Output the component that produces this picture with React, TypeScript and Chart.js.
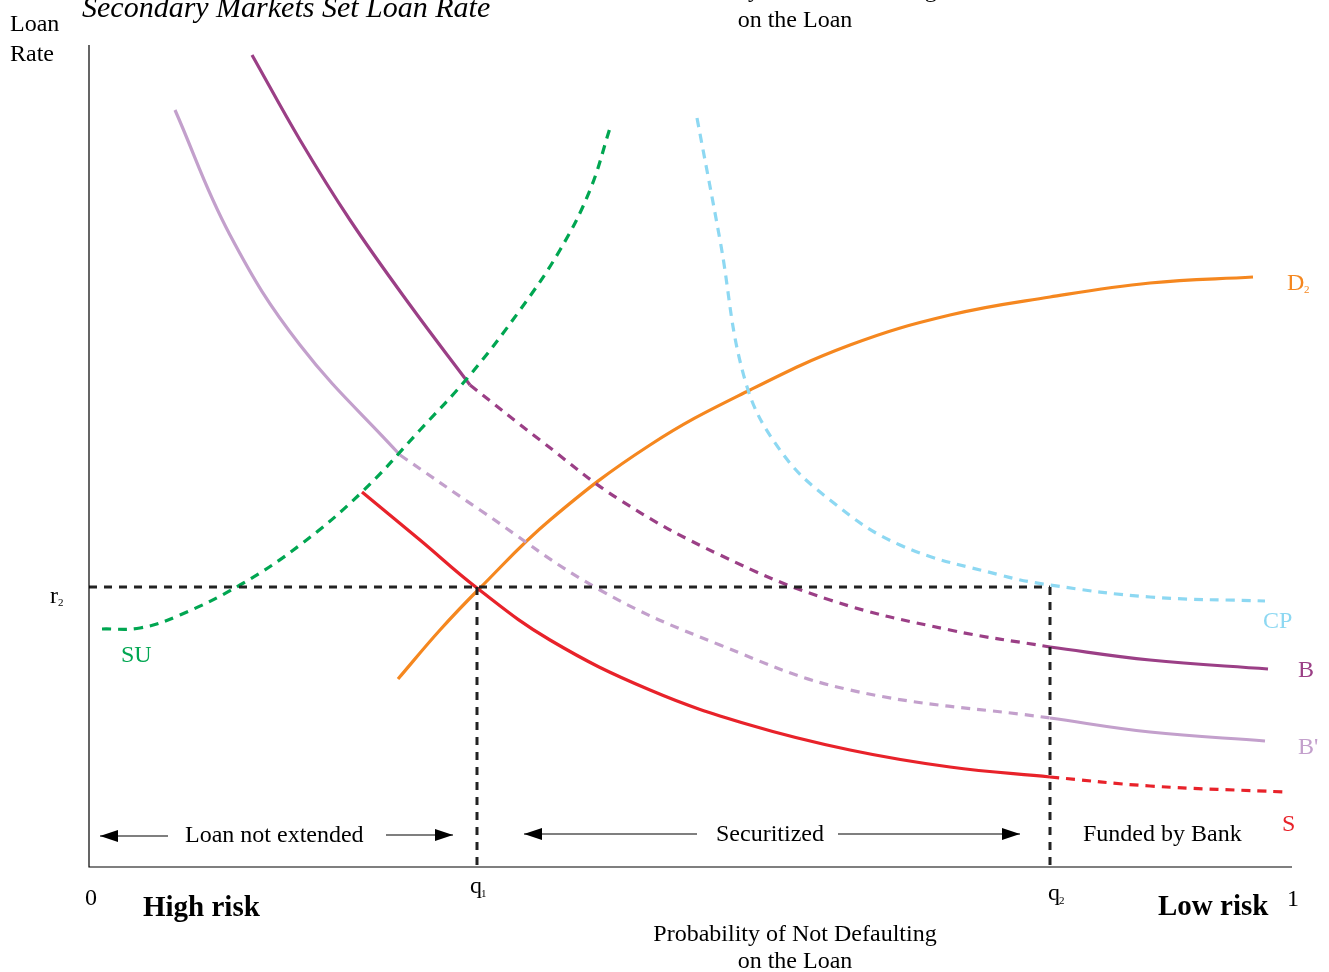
import Chart from 'chart.js/auto';
import { useEffect, useRef } from 'react';

// x: 0..1203 (probability of not defaulting, 0 → 1), y: 0..822 (loan rate)
type P = { x: number; y: number };
const pts = (a: number[][]): P[] => a.map(([x, y]) => ({ x, y }));

const bSolidHigh = pts([[163, 812], [211, 727], [261, 647], [321, 562], [381, 482]]);
const bDashed = pts([[381, 482], [451, 427], [531, 367], [631, 312], [741, 267], [861, 237], [961, 220]]);
const bSolidLow = pts([[961, 220], [1061, 207], [1179, 198]]);
const bpSolidHigh = pts([[86, 757], [141, 632], [211, 522], [311, 412]]);
const bpDashed = pts([[311, 412], [391, 357], [511, 277], [631, 222], [761, 177], [961, 149]]);
const bpSolidLow = pts([[961, 149], [1061, 135], [1176, 126]]);
const sSolid = pts([[273, 375], [331, 327], [388, 279], [461, 227], [561, 177], [661, 142], [761, 117], [861, 100], [961, 90]]);
const sDashed = pts([[961, 90], [1061, 81], [1196, 75]]);
const su = pts([[13, 238], [51, 239], [91, 252], [151, 282], [211, 322], [273, 375], [331, 437], [381, 492], [431, 557], [471, 617], [501, 677], [521, 739]]);
const cp = pts([[608, 749], [631, 627], [656, 487], [691, 417], [741, 367], [811, 322], [911, 292], [961, 282], [1061, 270], [1176, 266]]);
const d2 = pts([[309, 188], [351, 237], [391, 279], [461, 347], [561, 422], [661, 477], [761, 522], [861, 552], [961, 570], [1061, 584], [1164, 590]]);
const r2 = 280;
const q1 = 388;
const q2 = 961;

const PURPLE = '#9b3f86';
const LILAC = '#c3a0cc';
const RED = '#e8222a';
const GREEN = '#00a651';
const BLUE = '#8dd8f2';
const ORANGE = '#f5871f';
const SERIF = '"Liberation Serif", "DejaVu Serif", serif';

const line = (data: P[], color: string, dashed: boolean) => ({
  data,
  borderColor: color,
  borderWidth: 3.2,
  borderDash: dashed ? [9, 7] : [],
  pointRadius: 0,
  showLine: true,
  tension: 0.4,
  clip: false as const,
});

const App: React.FC = () => {
  const ref = useRef<HTMLCanvasElement | null>(null);

  useEffect(() => {
    document.body.style.margin = '0';
    if (!ref.current) return;
    const ctx = ref.current.getContext('2d');
    if (!ctx) return;

    const overlay = {
      id: 'overlay',
      afterDraw: (chart: Chart) => {
        const c = chart.ctx;
        const xs = chart.scales.x;
        const ys = chart.scales.y;
        const X = (v: number) => xs.getPixelForValue(v);
        const Y = (v: number) => ys.getPixelForValue(v);
        c.save();
        // guide lines
        c.strokeStyle = '#222';
        c.lineWidth = 3;
        c.setLineDash([8, 7]);
        c.beginPath();
        c.moveTo(X(0), Y(r2)); c.lineTo(X(q2), Y(r2));
        c.moveTo(X(q1), Y(r2)); c.lineTo(X(q1), Y(0));
        c.moveTo(X(q2), Y(r2)); c.lineTo(X(q2), Y(0));
        c.stroke();
        c.setLineDash([]);
        // axes
        c.lineWidth = 1.2;
        c.strokeStyle = '#000';
        c.beginPath();
        c.moveTo(X(0), Y(822)); c.lineTo(X(0), Y(0)); c.lineTo(X(1203), Y(0));
        c.stroke();
        // arrows
        const arrow = (x1: number, x2: number, y: number) => {
          c.beginPath();
          c.moveTo(x1, y); c.lineTo(x2, y); c.stroke();
          const d = x2 > x1 ? -1 : 1;
          c.beginPath();
          c.moveTo(x2, y); c.lineTo(x2 + d * 18, y - 6); c.lineTo(x2 + d * 18, y + 6); c.closePath();
          c.fillStyle = '#000'; c.fill();
        };
        arrow(168, 100, 836); arrow(386, 453, 835);
        arrow(697, 524, 834); arrow(838, 1020, 834);
        // text
        const t = (s: string, x: number, y: number, color = '#000', size = 24, style = '', align: CanvasTextAlign = 'left') => {
          c.font = `${style} ${size}px ${SERIF}`;
          c.fillStyle = color;
          c.textAlign = align;
          c.textBaseline = 'alphabetic';
          c.fillText(s, x, y);
        };
        t('Secondary Markets Set Loan Rate', 82, 17, '#000', 30, 'italic');
        t('Loan', 10, 31); t('Rate', 10, 61);
        t('Probability of Not Defaulting', 795, -3, '#000', 24, '', 'center');
        t('on the Loan', 795, 27, '#000', 24, '', 'center');
        t('Probability of Not Defaulting', 795, 941, '#000', 24, '', 'center');
        t('on the Loan', 795, 968, '#000', 24, '', 'center');
        t('D', 1287, 290, ORANGE); t('2', 1304, 293, ORANGE, 11);
        t('CP', 1263, 628, BLUE);
        t('B', 1298, 677, PURPLE);
        t("B'", 1298, 754, LILAC);
        t('S', 1282, 831, RED);
        t('SU', 121, 662, GREEN);
        t('r', 50, 603); t('2', 58, 606, '#000', 11);
        t('0', 85, 905);
        t('q', 470, 893); t('1', 481, 897, '#000', 11);
        t('q', 1048, 900); t('2', 1059, 904, '#000', 11);
        t('1', 1287, 906);
        t('High risk', 143, 916, '#000', 29, 'bold');
        t('Low risk', 1158, 915, '#000', 29, 'bold');
        t('Loan not extended', 185, 842);
        t('Securitized', 716, 841);
        t('Funded by Bank', 1083, 841);
        c.restore();
      },
    };

    const chart = new Chart(ctx, {
      type: 'scatter',
      data: {
        datasets: [
          line(su, GREEN, true),
          line(cp, BLUE, true),
          line(bSolidHigh, PURPLE, false),
          line(bDashed, PURPLE, true),
          line(bSolidLow, PURPLE, false),
          line(bpSolidHigh, LILAC, false),
          line(bpDashed, LILAC, true),
          line(bpSolidLow, LILAC, false),
          line(sSolid, RED, false),
          line(sDashed, RED, true),
          line(d2, ORANGE, false),
        ],
      },
      options: {
        responsive: false,
        animation: false,
        layout: { padding: { left: 89, right: 37, top: 45, bottom: 105 } },
        scales: {
          x: { type: 'linear', min: 0, max: 1203, display: false },
          y: { type: 'linear', min: 0, max: 822, display: false },
        },
        plugins: { legend: { display: false }, tooltip: { enabled: false } },
      },
      plugins: [overlay],
    });

    return () => {
      chart.destroy();
    };
  }, []);

  return <canvas ref={ref} width={1329} height={972} style={{ display: 'block', background: '#fff' }}></canvas>;
};

export default App;
